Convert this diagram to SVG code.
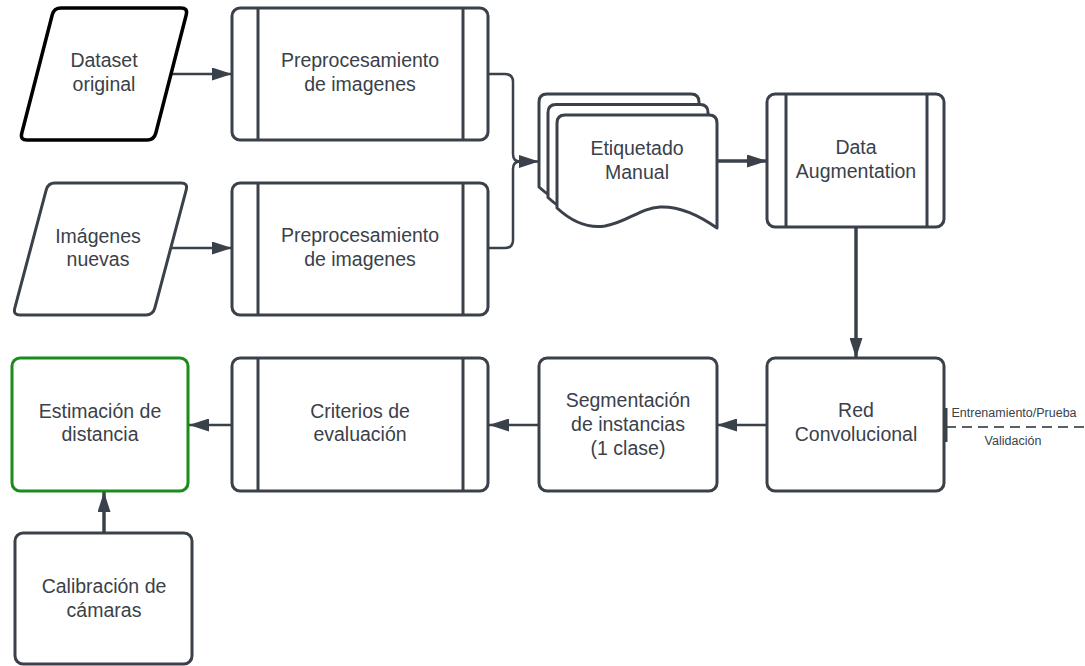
<svg xmlns="http://www.w3.org/2000/svg" xmlns:xlink="http://www.w3.org/1999/xlink" width="1085" height="666" viewBox="0 0 1085 666">
  <style>
    .shape { fill: #ffffff; stroke: #3a414a; stroke-width: 3; stroke-linejoin: round; }
    .io-black { fill: #ffffff; stroke: #000000; stroke-width: 3.5; stroke-linejoin: round; }
    .green { fill: #ffffff; stroke: #1a8c1a; stroke-width: 3; }
    .bar { stroke: #3a414a; stroke-width: 3; }
    .label { font-family: "Liberation Sans", Arial, sans-serif; font-size: 19.5px; fill: #3a414a; text-anchor: middle; }
    .small { font-family: "Liberation Sans", Arial, sans-serif; font-size: 12.5px; fill: #3a414a; text-anchor: middle; }
    .conn { fill: none; stroke: #3a414a; stroke-width: 2.5; }
    .conn-thick { fill: none; stroke: #3a414a; stroke-width: 3.5; }
    .dashed { fill: none; stroke: #5a5f66; stroke-width: 2; stroke-dasharray: 10 6; }
  </style>
  <defs>
    <marker id="arrow" markerUnits="userSpaceOnUse" markerWidth="20" markerHeight="13" refX="20" refY="6.5" orient="auto">
      <path d="M0,0 L20,6.5 L0,13 Z" fill="#3a414a"/>
    </marker>
    <!-- document sheet with wavy bottom -->
    <path id="doc" d="M557,123 Q557,115 565,115 H709 Q717,115 717,123 V228 C700,216 680,206 660,207 C640,208 628,222 605,226 C585,229 570,220 557,208 Z"/>
  </defs>

  <rect width="1085" height="666" fill="#ffffff"/>

  <!-- connectors -->
  <g id="connectors">
    <path class="conn" d="M172,74 H232" marker-end="url(#arrow)"/>
    <path class="conn" d="M172,248 H232" marker-end="url(#arrow)"/>
    <path class="conn" d="M488,74 H505 Q513,74 513,82 V154 Q513,161.5 520,161.5 H539" marker-end="url(#arrow)"/>
    <path class="conn" d="M488,248 H505 Q513,248 513,240 V169 Q513,161.5 520,161.5"/>
    <path class="conn-thick" d="M717,161 H767" marker-end="url(#arrow)"/>
    <path class="conn-thick" d="M856,227 V358" marker-end="url(#arrow)"/>
    <path class="conn" d="M767,425 H717" marker-end="url(#arrow)"/>
    <path class="conn" d="M539,425 H489" marker-end="url(#arrow)"/>
    <path class="conn" d="M232,425 H189" marker-end="url(#arrow)"/>
    <path class="conn-thick" d="M104,533 V492" marker-end="url(#arrow)"/>
    <path class="dashed" d="M946,427 H1085"/>
    <text class="small" x="1014" y="417">Entrenamiento/Prueba</text>
    <text class="small" x="1013" y="445">Validación</text>
  </g>

  <!-- inputs -->
  <g id="dataset-original">
    <path class="io-black" d="M61,8 H181 Q188,8 186.25,14.78 L155.75,133.22 Q154,140 147,140 H27 Q20,140 21.75,133.22 L52.25,14.78 Q54,8 61,8 Z"/>
    <text class="label" x="104" y="67">Dataset</text>
    <text class="label" x="104" y="90.5">original</text>
  </g>

  <g id="imagenes-nuevas">
    <path class="shape" d="M55,183 H181 Q188,183 186.21,189.76 L154.79,308.24 Q153,315 146,315 H20 Q13,315 14.79,308.24 L46.21,189.76 Q48,183 55,183 Z"/>
    <text class="label" x="98" y="243">Imágenes</text>
    <text class="label" x="98" y="266">nuevas</text>
  </g>

  <!-- predefined processes -->
  <g id="preprocesamiento-1">
    <rect class="shape" x="232" y="8" width="256" height="132" rx="8"/>
    <line class="bar" x1="258" y1="8" x2="258" y2="140"/>
    <line class="bar" x1="463" y1="8" x2="463" y2="140"/>
    <text class="label" x="360" y="67">Preprocesamiento</text>
    <text class="label" x="360" y="90.5">de imagenes</text>
  </g>

  <g id="preprocesamiento-2">
    <rect class="shape" x="232" y="183" width="256" height="132" rx="8"/>
    <line class="bar" x1="258" y1="183" x2="258" y2="315"/>
    <line class="bar" x1="463" y1="183" x2="463" y2="315"/>
    <text class="label" x="360" y="242">Preprocesamiento</text>
    <text class="label" x="360" y="265.5">de imagenes</text>
  </g>

  <g id="etiquetado-manual">
    <use xlink:href="#doc" class="shape" transform="translate(-18,-21)"/>
    <use xlink:href="#doc" class="shape" transform="translate(-9,-10.5)"/>
    <use xlink:href="#doc" class="shape"/>
    <text class="label" x="637" y="155">Etiquetado</text>
    <text class="label" x="637" y="178.5">Manual</text>
  </g>

  <g id="data-augmentation">
    <rect class="shape" x="767" y="94" width="177" height="133" rx="8"/>
    <line class="bar" x1="786" y1="94" x2="786" y2="227"/>
    <line class="bar" x1="927" y1="94" x2="927" y2="227"/>
    <text class="label" x="856" y="154">Data</text>
    <text class="label" x="856" y="177.5">Augmentation</text>
  </g>

  <g id="red-convolucional">
    <rect class="shape" x="767" y="358" width="177" height="133" rx="8"/>
    <rect x="943" y="408" width="4.5" height="34" fill="#3a414a"/>
    <text class="label" x="856" y="417">Red</text>
    <text class="label" x="856" y="440.5">Convolucional</text>
  </g>

  <g id="segmentacion">
    <rect class="shape" x="539" y="358" width="178" height="133" rx="8"/>
    <text class="label" x="628" y="407">Segmentación</text>
    <text class="label" x="628" y="431">de instancias</text>
    <text class="label" x="628" y="455">(1 clase)</text>
  </g>

  <g id="criterios-evaluacion">
    <rect class="shape" x="232" y="358" width="256" height="133" rx="8"/>
    <line class="bar" x1="258" y1="358" x2="258" y2="491"/>
    <line class="bar" x1="463" y1="358" x2="463" y2="491"/>
    <text class="label" x="360" y="417.5">Criterios de</text>
    <text class="label" x="360" y="441">evaluación</text>
  </g>

  <g id="estimacion-distancia">
    <rect class="green" x="12" y="358" width="176" height="133" rx="8"/>
    <text class="label" x="100" y="417.5">Estimación de</text>
    <text class="label" x="100" y="441">distancia</text>
  </g>

  <g id="calibracion-camaras">
    <rect class="shape" x="15" y="533" width="177" height="131" rx="8"/>
    <text class="label" x="104" y="593">Calibración de</text>
    <text class="label" x="104" y="616.5">cámaras</text>
  </g>
</svg>
